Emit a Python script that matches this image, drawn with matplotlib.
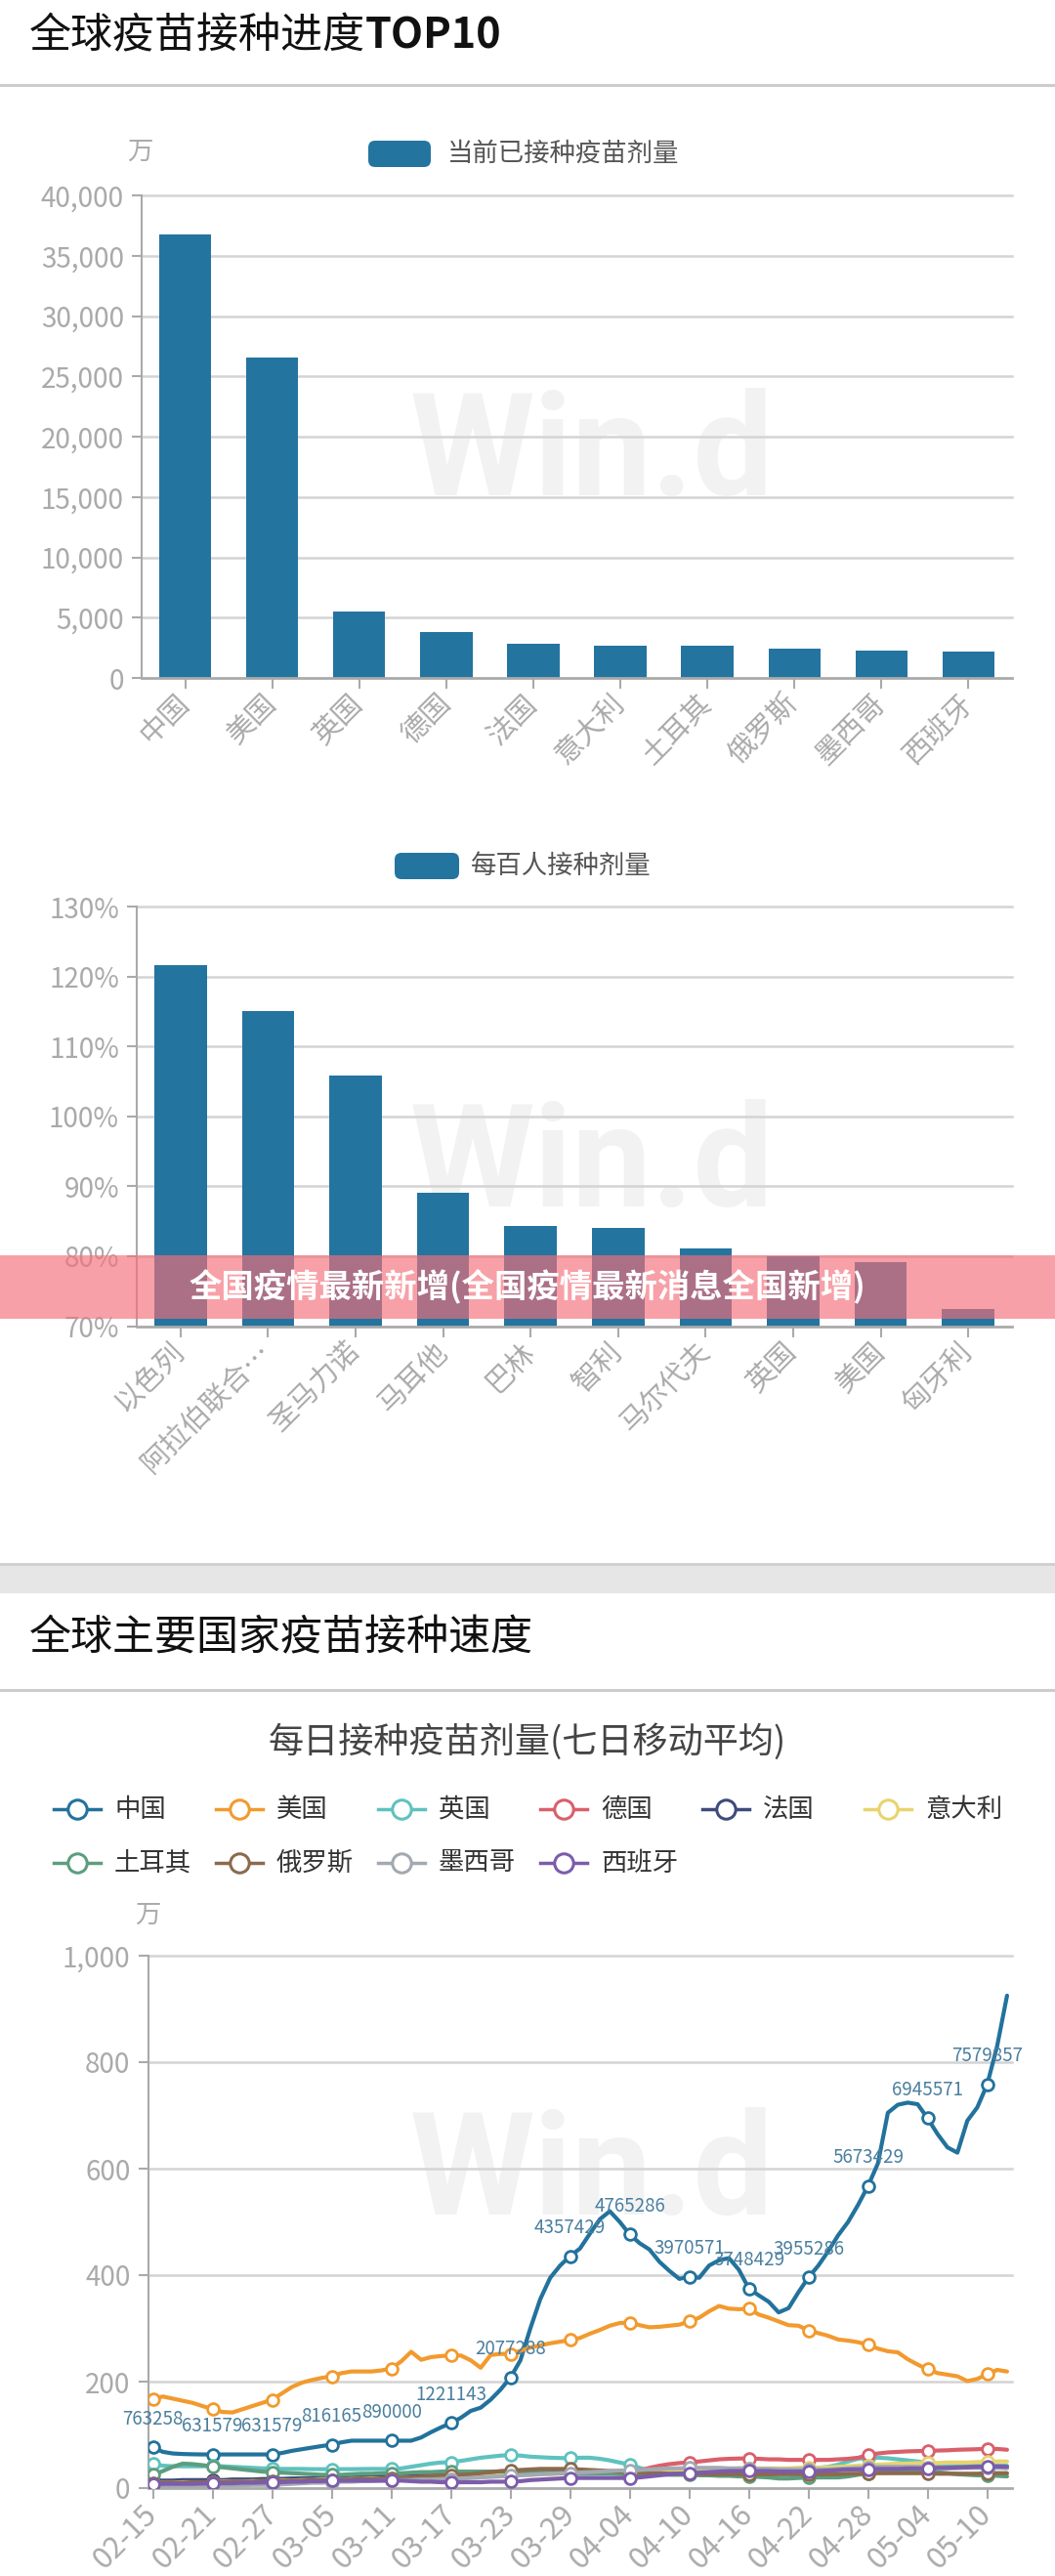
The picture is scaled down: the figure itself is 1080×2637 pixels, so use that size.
import numpy as np
import pandas as pd
import matplotlib
matplotlib.use('Agg')
import matplotlib.pyplot as plt
from matplotlib.patches import FancyBboxPatch, Rectangle
from matplotlib.lines import Line2D

plt.rcParams['font.family'] = ['Noto Sans CJK SC', 'DejaVu Sans']

# ---------------- data ----------------
top10_names = ['中国', '美国', '英国', '德国', '法国', '意大利', '土耳其', '俄罗斯', '墨西哥', '西班牙']
top10_doses = [36800, 26550, 5500, 3800, 2800, 2650, 2650, 2400, 2250, 2170]   # 万剂

per100_names = ['以色列', '阿拉伯联合…', '圣马力诺', '马耳他', '巴林', '智利', '马尔代夫', '英国', '美国', '匈牙利']
per100_doses = [121.6, 115.0, 105.8, 89.0, 84.3, 84.0, 81.1, 80.0, 79.2, 72.5]  # %

# daily doses, 7-day moving average, 万剂, 02-15 .. 05-12 (rows of 6 days)
china = [76.3, 68, 65, 64, 63.5, 63.2,
         63.2, 63.2, 63.2, 63.2, 63.2, 63.2,
         63.2, 66, 70, 73, 76, 79,
         81.6, 86, 89, 89, 89, 89,
         89.0, 89, 89, 95, 105, 114,
         122.1, 132, 145, 151, 166, 185,
         207.7, 240, 300, 355, 395, 418,
         435.7, 450, 478, 505, 520, 500,
         476.5, 460, 448, 425, 408, 393,
         397.1, 395, 418, 428, 432, 410,
         374.8, 362, 350, 330, 338, 368,
         395.5, 418, 445, 475, 500, 532,
         567.3, 610, 705, 720, 724, 721,
         694.6, 665, 640, 630, 690, 715,
         758.0, 830, 925]
usa = [167.6, 172, 168, 164, 160, 154,
       148, 143, 142, 148, 154, 160,
       166, 178, 190, 198, 203, 207,
       210, 216, 219, 219, 219, 221,
       224.7, 238, 256, 241, 246, 248,
       249, 249, 240, 226, 250, 252,
       252, 258, 264, 268, 272, 275,
       278, 282, 290, 297, 305, 310,
       311, 306, 302, 303, 305, 307,
       313, 320, 332, 342, 337, 336,
       337, 326, 320, 313, 306, 305,
       296, 291, 286, 279, 277, 274,
       269, 262, 257, 255, 242, 232,
       223, 216, 213, 210, 201, 205,
       214, 222, 219]
uk = [45, 42, 41, 41, 41, 41,
      42, 41, 40, 39, 38, 37,
      37, 36, 36, 36, 35.6, 35.5,
      35.6, 35.6, 35.6, 35.8, 36, 36,
      36, 37, 40, 43, 46, 48,
      48.5, 51, 54, 57, 59, 61,
      62, 61, 59, 58, 57, 56.5,
      56, 57, 57, 55, 52, 48,
      44, 38, 33, 31, 31, 32,
      33, 33, 34, 34, 35, 35,
      35, 35, 35, 36, 36, 37,
      37, 38, 40, 44, 50, 55,
      57, 57, 56, 54, 52, 50,
      47, 45, 44, 43, 42, 42,
      42, 42, 42]
germany = [12, 12, 13, 13, 13, 14,
           14, 14, 15, 15, 15, 16,
           16, 17, 17, 18, 18, 19,
           19, 20, 20, 21, 21, 22,
           22, 23, 23, 24, 24, 25,
           25, 26, 26, 27, 28, 29,
           30, 31, 31, 32, 32, 33,
           33, 33, 32, 31, 30, 30,
           30, 33, 38, 42, 45, 47,
           48.5, 50, 52, 54, 55, 55.5,
           55.8, 55, 54, 54, 53, 53,
           52.8, 53, 53, 54, 55, 57,
           62, 65, 67, 68, 69, 69.5,
           70, 70.5, 71, 72, 72.5, 73,
           74, 73.5, 72]
france = [14, 14, 14, 15, 15, 15,
          15, 15, 16, 16, 16, 17,
          17, 17, 18, 18, 18, 19,
          19, 19, 20, 20, 20, 21,
          21, 21, 22, 22, 23, 23,
          24, 24, 25, 25, 26, 26,
          27, 27, 28, 28, 29, 29,
          30, 30, 30, 29, 28, 27,
          26, 26, 27, 28, 29, 30,
          31, 32, 32, 33, 33, 33,
          34, 33, 33, 32, 32, 32,
          32, 33, 33, 34, 35, 36,
          37, 37, 38, 38, 38, 38,
          38, 38, 38, 38, 39, 39,
          39, 39, 38]
italy = [10, 10, 10, 11, 11, 11,
         11, 12, 12, 12, 13, 13,
         13, 14, 14, 15, 15, 16,
         16, 16, 17, 17, 18, 18,
         18, 19, 19, 20, 20, 21,
         21, 22, 22, 23, 23, 24,
         24, 25, 25, 26, 26, 27,
         27, 28, 28, 28, 29, 29,
         29, 30, 31, 32, 33, 34,
         35, 35, 36, 36, 36, 37,
         37, 37, 37, 37, 37, 38,
         38, 38, 39, 40, 41, 42,
         43, 44, 45, 46, 46, 47,
         47, 47, 48, 48, 48, 49,
         49, 50, 50]
turkey = [25, 32, 40, 46, 45, 43,
          40.5, 39, 37, 35, 33, 31,
          30, 29, 28, 27, 26, 25,
          25, 25, 26, 27, 27, 28,
          28, 28, 29, 30, 30, 31,
          31, 31, 31, 31, 31, 31,
          31, 30, 30, 29, 29, 28,
          28, 27, 27, 27, 27, 27,
          27, 27, 26, 26, 25, 25,
          25, 24, 24, 23, 23, 22,
          22, 21, 20, 18, 18, 19,
          20, 20, 20, 20, 22, 25,
          28, 29, 30, 30, 31, 31,
          31, 30, 28, 26, 25, 24,
          24, 23, 22]
russia = [10, 10, 10, 10, 11, 11,
          11, 11, 12, 12, 12, 13,
          13, 13, 14, 14, 15, 15,
          15, 16, 16, 17, 17, 18,
          18, 19, 20, 21, 22, 23,
          24, 25, 26, 28, 30, 32,
          33, 34, 35, 36, 36, 36,
          36, 35, 34, 33, 32, 31,
          30, 29, 28, 28, 27, 27,
          27, 27, 26, 26, 26, 26,
          26, 26, 26, 26, 26, 26,
          26, 26, 26, 26, 27, 27,
          28, 28, 28, 28, 28, 28,
          28, 27, 27, 27, 27, 27,
          28, 28, 28]
mexico = [3, 3, 3, 4, 4, 4,
          4, 5, 5, 5, 6, 6,
          6, 7, 8, 9, 10, 10,
          11, 12, 12, 13, 13, 14,
          14, 15, 15, 16, 16, 17,
          17, 18, 19, 20, 21, 22,
          23, 24, 25, 26, 27, 28,
          28, 29, 30, 31, 32, 33,
          33, 34, 35, 36, 37, 37,
          38, 38, 38, 38, 37, 37,
          37, 36, 36, 35, 35, 35,
          35, 35, 35, 36, 37, 38,
          39, 40, 40, 40, 40, 40,
          39, 39, 38, 38, 38, 38,
          38, 38, 38]
spain = [8, 8, 8, 8, 8, 8.5,
         8.5, 9, 9, 10, 10, 10.5,
         11, 11, 12, 12, 13, 13,
         14, 14, 14, 14, 14, 14,
         14, 14, 13, 12, 12, 11,
         11, 11, 11, 11, 12, 12,
         12, 13, 15, 16, 17, 18,
         19, 19, 19, 19, 19, 19,
         19, 20, 22, 24, 26, 27,
         28, 29, 30, 31, 32, 32,
         32.6, 32, 32, 31, 31, 31,
         31, 32, 33, 34, 35, 35,
         35.6, 36, 36, 36, 37, 37,
         37, 38, 38, 39, 39, 40,
         40.5, 40.5, 40]

china_labels = [763258, 631579, 631579, 816165, 890000, 1221143, 2077288, 4357429,
                4765286, 3970571, 3748429, 3955286, 5673429, 6945571, 7579857]

series_names = ['中国', '美国', '英国', '德国', '法国', '意大利', '土耳其', '俄罗斯', '墨西哥', '西班牙']
series_data = [china, usa, uk, germany, france, italy, turkey, russia, mexico, spain]
series_colors = ['#22729c', '#f29a2e', '#5fc2bf', '#d9606b', '#3f4a7d',
                 '#e8d46f', '#5c9e7f', '#8c6a4c', '#a3a9b1', '#7c5cab']

dates = pd.date_range('2021-02-15', '2021-05-12').strftime('%m-%d').tolist()

BAR = '#2474a0'
GRID = '#d4d4d4'
AXIS = '#aaaaaa'
LBL = '#aaaaaa'
W, H = 1080, 2637


def fig_rect(x0, x1, y_top, y_bot):
    return [x0 / W, 1 - y_bot / H, (x1 - x0) / W, (y_bot - y_top) / H]


def style_axes(ax, yticks, ylabels, xlab_size):
    ax.set_facecolor('none')
    for s in ['top', 'right']:
        ax.spines[s].set_visible(False)
    ax.spines['left'].set_color(AXIS)
    ax.spines['left'].set_linewidth(1.5)
    ax.spines['bottom'].set_color(AXIS)
    ax.spines['bottom'].set_linewidth(2)
    ax.set_yticks(yticks)
    ax.set_yticklabels(ylabels)
    ax.tick_params(axis='y', length=7, width=1.5, color=AXIS, labelsize=20,
                   labelcolor=LBL, pad=6)
    ax.tick_params(axis='x', length=8, width=1.5, color=AXIS, labelsize=xlab_size,
                   labelcolor=LBL, pad=8)
    for v in yticks[1:]:
        ax.axhline(v, color=GRID, lw=1.8, zorder=0.5, clip_on=False)
    for lab in ax.get_xticklabels():
        lab.set_rotation(45)
        lab.set_ha('right')
        lab.set_va('center')
        lab.set_rotation_mode('anchor')


fig = plt.figure(figsize=(W / 100, H / 100), dpi=100)

# background layer in pixel coordinates
bg = fig.add_axes([0, 0, 1, 1], zorder=0)
bg.set_xlim(0, W)
bg.set_ylim(H, 0)
bg.axis('off')

bg.text(30, 37, '全球疫苗接种进度', fontsize=31, va='center', color='#111111')
bg.text(374, 37, 'TOP10', fontsize=31, va='center', color='#111111', fontweight='bold')
bg.plot([0, W], [87, 87], color='#cccccc', lw=2.2)

for cy in [467, 1195, 2227]:
    bg.text(606, cy, 'Win.d', fontsize=105, fontfamily='Roboto', fontweight='bold',
            color='#f2f2f2', ha='center', va='center')

# legend of chart 1
bg.add_patch(FancyBboxPatch((377, 144), 64, 27, boxstyle='round,pad=0,rounding_size=7',
                            fc=BAR, ec='none'))
bg.text(458, 157, '当前已接种疫苗剂量', fontsize=19, va='center', color='#555555')
bg.text(143, 155, '万', fontsize=19, va='center', ha='center', color=LBL)

# legend of chart 2
bg.add_patch(FancyBboxPatch((404, 873), 66, 27, boxstyle='round,pad=0,rounding_size=7',
                            fc=BAR, ec='none'))
bg.text(482, 886, '每百人接种剂量', fontsize=19, va='center', color='#555555')

# grey band and second section
bg.add_patch(Rectangle((0, 1600), W, 31, fc='#e6e6e6', ec='none'))
bg.plot([0, W], [1601, 1601], color='#cfcfcf', lw=2)
bg.text(30, 1677, '全球主要国家疫苗接种速度', fontsize=31, va='center', color='#111111')
bg.plot([0, W], [1730, 1730], color='#cccccc', lw=2.2)
bg.text(540, 1783, '每日接种疫苗剂量(七日移动平均)', fontsize=26, ha='center', va='center',
        color='#444444')
bg.text(151, 1960, '万', fontsize=19, va='center', ha='center', color=LBL)

# legend of chart 3
for i, (name, col) in enumerate(zip(series_names, series_colors)):
    row, c = divmod(i, 6)
    x0 = 55 + 166 * c
    y0 = 1852 + 55 * row
    bg.add_line(Line2D([x0, x0 + 48], [y0, y0], color=col, lw=2.5))
    bg.add_line(Line2D([x0 + 24], [y0], marker='o', ms=14, mfc='white', mec=col, mew=2.2))
    bg.text(x0 + 62, y0, name, fontsize=19, va='center', color='#333333')

# ---------------- chart 1 ----------------
ax1 = fig.add_axes(fig_rect(145, 1036, 200, 694), zorder=1)
x = np.arange(len(top10_names))
ax1.bar(x, top10_doses, width=0.6, color=BAR, zorder=2)
ax1.set_xlim(-0.5, len(top10_names) - 0.5)
ax1.set_ylim(0, 40000)
ax1.set_xticks(x)
ax1.set_xticklabels(top10_names)
yt = list(range(0, 40001, 5000))
style_axes(ax1, yt, [f'{v:,}' for v in yt], 21)

# ---------------- chart 2 ----------------
ax2 = fig.add_axes(fig_rect(140, 1036, 928, 1357.5), zorder=1)
x = np.arange(len(per100_names))
ax2.bar(x, per100_doses, width=0.6, color=BAR, zorder=2)
ax2.set_xlim(-0.5, len(per100_names) - 0.5)
ax2.set_ylim(70, 130)
ax2.set_xticks(x)
ax2.set_xticklabels(per100_names)
yt = list(range(70, 131, 10))
style_axes(ax2, yt, [f'{v}%' for v in yt], 21)

# ---------------- chart 3 ----------------
ax3 = fig.add_axes(fig_rect(151.5, 1036, 2002, 2547), zorder=1)
days = np.arange(len(dates))
for name, data, col in zip(series_names, series_data, series_colors):
    ax3.plot(days, data, color=col, lw=3, zorder=3, solid_capstyle='round',
             marker='o', markevery=6, ms=8.5, mfc='white', mec=col, mew=2)
mark_days = days[::6]
for d, lab in zip(mark_days, china_labels):
    ax3.annotate(str(lab), (d, china[d]), xytext=(0, 21), textcoords='offset points',
                 ha='center', va='center', fontsize=13.5, color='#4a7f9f', zorder=5)
ax3.set_xlim(-0.5, len(dates) - 0.5)
ax3.set_ylim(0, 1000)
ax3.set_xticks(mark_days)
ax3.set_xticklabels([dates[d] for d in mark_days])
yt = list(range(0, 1001, 200))
style_axes(ax3, yt, [f'{v:,}' for v in yt], 22)

# ---------------- banner overlay ----------------
fg = fig.add_axes([0, 0, 1, 1], zorder=10)
fg.set_xlim(0, W)
fg.set_ylim(H, 0)
fg.axis('off')
fg.add_patch(Rectangle((0, 1285), W, 65, fc='#f56e78', ec='none', alpha=0.65))
fg.text(540, 1318, '全国疫情最新新增(全国疫情最新消息全国新增)', fontsize=24,
        fontweight='bold', color='white', ha='center', va='center')

fig.savefig('out.png', dpi=100, facecolor='white')
